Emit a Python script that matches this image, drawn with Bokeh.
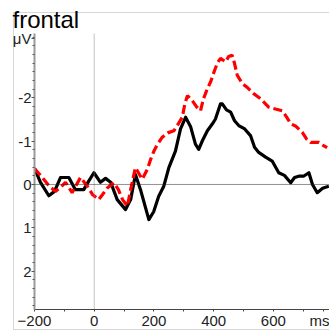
from bokeh.plotting import figure
from bokeh.models import Range1d, FixedTicker, Span
from bokeh.embed import file_html
from bokeh.resources import INLINE

# ---- data (time in ms, amplitude in µV; negative plotted upward) ----
black_t = [-200, -180, -152, -133, -113, -85, -63, -35, -19, -1, 21, 38, 55, 77, 105, 122, 138,
           155, 183, 199, 216, 233, 250, 272, 289, 306, 323, 339, 350, 363, 379, 396, 406, 423,
           429, 443, 457, 470, 484, 504, 524, 537, 551, 574, 596, 618, 637, 658, 671, 685, 701,
           719, 731, 747, 765, 786]
black_v = [-0.37, -0.05, 0.26, 0.16, -0.16, -0.16, 0.12, 0.12, -0.07, -0.27, -0.05, -0.14, -0.05,
           0.35, 0.58, 0.35, -0.23, 0.12, 0.81, 0.63, 0.27, 0.04, -0.39, -0.77, -1.28, -1.55,
           -1.33, -0.93, -0.81, -1.02, -1.24, -1.40, -1.51, -1.86, -1.86, -1.72, -1.67, -1.47,
           -1.36, -1.28, -1.12, -0.86, -0.74, -0.63, -0.54, -0.27, -0.21, -0.04, -0.16, -0.19,
           -0.19, -0.27, 0.00, 0.19, 0.09, 0.04]

red_t = [-200, -180, -153, -130, -113, -96, -74, -59, -46, -23, -6, 15, 28, 44, 66, 81, 95, 111,
         122, 138, 161, 178, 189, 200, 212, 228, 246, 267, 279, 295, 303, 312, 329, 343, 356,
         366, 379, 390, 403, 413, 423, 440, 450, 462, 470, 479, 496, 514, 535, 557, 585, 607,
         630, 644, 658, 674, 697, 711, 725, 752, 765, 780]
red_v = [-0.37, -0.21, 0.02, 0.16, 0.07, -0.05, 0.19, 0.00, -0.16, 0.04, 0.23, 0.35, 0.23, 0.08,
         -0.04, 0.12, 0.35, 0.50, 0.12, -0.39, -0.12, -0.35, -0.58, -0.77, -0.93, -1.09, -1.19,
         -1.24, -1.37, -1.55, -1.84, -2.05, -1.93, -1.79, -1.70, -1.98, -2.21, -2.37, -2.63,
         -2.81, -2.91, -2.83, -2.95, -2.98, -2.79, -2.52, -2.33, -2.23, -2.09, -1.98, -1.78,
         -1.74, -1.70, -1.56, -1.40, -1.35, -1.20, -1.05, -0.97, -0.97, -0.91, -0.85]

title_text = "frontal"
x_unit, x_unit_pos = "ms", 768
y_unit, y_unit_pos = "μV", -3.36
x_ticks = [-200, 0, 200, 400, 600]
x_minor = [-100, 100, 300, 500, 700]
y_ticks = [-2, -1, 0, 1, 2]
y_minor = [-3.4, -3.2, -3.0, -2.8, -2.6, -2.4, -2.2, -1.8, -1.6, -1.4, -1.2, -0.8, -0.6, -0.4,
           -0.2, 0.2, 0.4, 0.6, 0.8, 1.2, 1.4, 1.6, 1.8, 2.2, 2.4, 2.6, 2.8]

FONT = "Liberation Sans"
LINE = "#d6d6d6"

p = figure(width=329, height=331, output_backend="svg", toolbar_location=None,
           x_range=Range1d(-200, 788), y_range=Range1d(2.885, -3.483),
           min_border_left=34, min_border_right=0, min_border_top=33, min_border_bottom=21)
p.outline_line_color = None
p.grid.grid_line_color = None
p.background_fill_color = None
p.border_fill_color = None
# faint frame around the panel (drawn behind the transparent canvas)
p.styles = {
    "background-color": "white",
    "background-image": f"linear-gradient({LINE},{LINE}), linear-gradient({LINE},{LINE}), "
                        f"linear-gradient({LINE},{LINE})",
    "background-size": "1px 318px, 330px 1px, 330px 1px",
    "background-position": "13px 12px, 13px 12px, 13px 329px",
    "background-repeat": "no-repeat",
}

# title
p.title.text = title_text
p.title.text_font = FONT
p.title.text_font_size = "24px"
p.title.text_font_style = "normal"
p.title.text_color = "black"
p.title.align = "left"
p.title.offset = -22
p.title.standoff = 2

# axes
xa = p.xaxis[0]
xa.ticker = FixedTicker(ticks=x_ticks + [x_unit_pos], minor_ticks=x_minor)
xa.major_label_overrides = {x_unit_pos: x_unit}
xa.axis_line_color = "#444444"
xa.major_tick_line_color = "#444444"
xa.minor_tick_line_color = "#444444"
xa.major_tick_out = 2
xa.major_tick_in = 0
xa.minor_tick_out = 2
xa.minor_tick_in = 0
xa.major_label_standoff = 0
xa.major_label_text_font = FONT
xa.major_label_text_font_size = "15px"
xa.major_label_text_color = "#222222"

ya = p.yaxis[0]
ya.ticker = FixedTicker(ticks=[y_unit_pos] + y_ticks, minor_ticks=y_minor)
ya.major_label_overrides = {y_unit_pos: y_unit, -2: "-2", -1: "-1", 0: "0", 1: "1", 2: "2"}
ya.axis_line_color = "#9a9a9a"
ya.axis_line_width = 2
ya.major_tick_line_color = "#555555"
ya.minor_tick_line_color = "#555555"
ya.major_tick_out = 3
ya.major_tick_in = 0
ya.minor_tick_out = 2
ya.minor_tick_in = 0
ya.major_label_standoff = 0
ya.major_label_text_font = FONT
ya.major_label_text_font_size = "15px"
ya.major_label_text_color = "#222222"

# reference lines
p.add_layout(Span(location=0, dimension="height", line_color="#888888",
                  line_dash="1 1", line_width=1))
p.add_layout(Span(location=0, dimension="width", line_color="#222222",
                  line_dash="1 1", line_width=1))

# curves
p.line(black_t, black_v, line_color="black", line_width=3.2, line_join="round")
p.line(red_t, red_v, line_color="#ff0000", line_width=3.2, line_dash="9 4")

open("out.html", "w").write(file_html(p, INLINE))
